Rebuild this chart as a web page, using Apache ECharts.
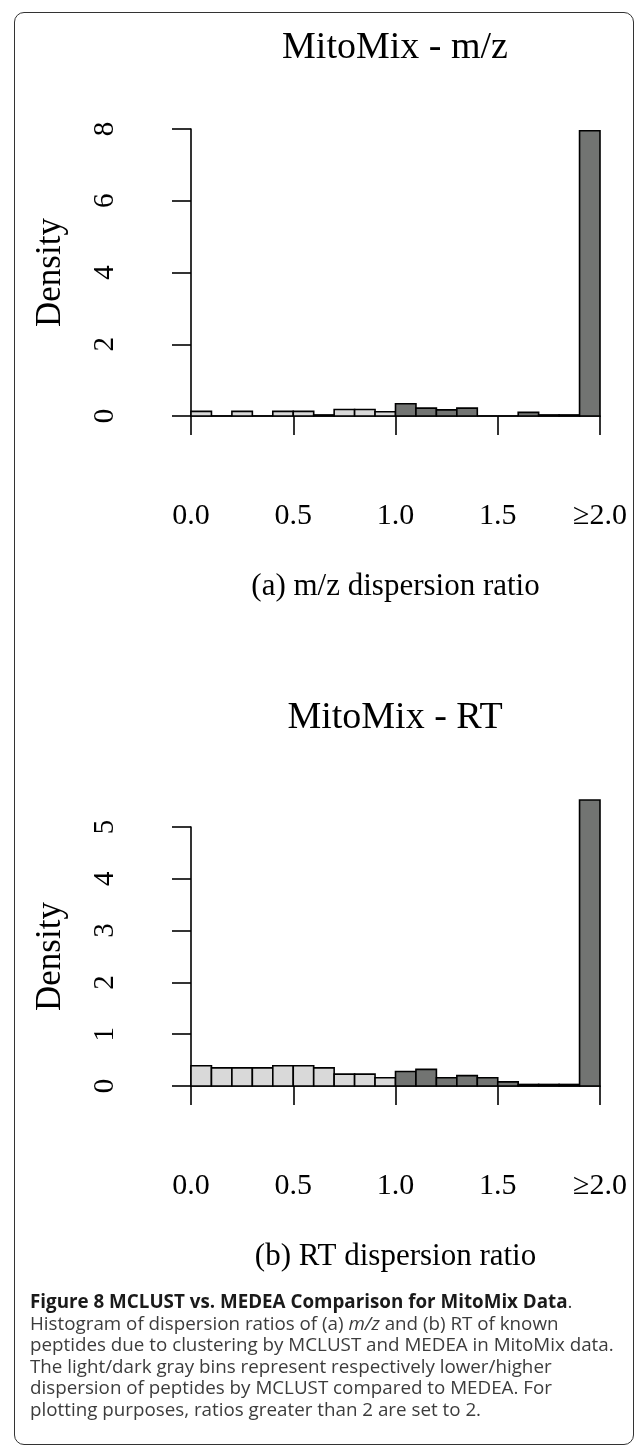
<!DOCTYPE html>
<html>
<head>
<meta charset="utf-8">
<script src="https://cdn.jsdelivr.net/npm/echarts@6/dist/echarts.min.js"></script>
<style>
html, body { margin: 0; padding: 0; background: #fff; }
#frame { position: absolute; left: 14px; top: 12px; width: 620px; height: 1433px; border: 1.5px solid #333; border-radius: 10px; box-sizing: border-box; }
#chart { position: absolute; left: 0; top: 0; width: 638px; height: 1290px; }
#caption { position: absolute; left: 30px; top: 1291px; width: 605px; font-family: "Open Sans"; font-size: 18.8px; line-height: 21.5px; color: #3c3c3c; white-space: nowrap; }
#caption b { color: #1a1a1a; }
</style>
</head>
<body>
<div id="frame"></div>
<div id="chart"></div>
<div id="caption"><b>Figure 8 MCLUST vs. MEDEA Comparison for MitoMix Data</b>.<br>Histogram of dispersion ratios of (a) <i>m/z</i> and (b) RT of known<br>peptides due to clustering by MCLUST and MEDEA in MitoMix data.<br>The light/dark gray bins represent respectively lower/higher<br>dispersion of peptides by MCLUST compared to MEDEA. For<br>plotting purposes, ratios greater than 2 are set to 2.</div>
<script>
// bins of width 0.1, last bin holds everything >= 1.9 (ratios > 2 set to 2)
const binStart = [0.0, 0.1, 0.2, 0.3, 0.4, 0.5, 0.6, 0.7, 0.8, 0.9, 1.0, 1.1, 1.2, 1.3, 1.4, 1.5, 1.6, 1.7, 1.8, 1.9]
const binEnd = [0.1, 0.2, 0.3, 0.4, 0.5, 0.6, 0.7, 0.8, 0.9, 1.0, 1.1, 1.2, 1.3, 1.4, 1.5, 1.6, 1.7, 1.8, 1.9, 2.0]
const mzDensity = [0.13, 0, 0.13, 0, 0.13, 0.13, 0.03, 0.18, 0.18, 0.12, 0.34, 0.22, 0.17, 0.22, 0, 0, 0.1, 0.03, 0.03, 7.95]
const rtDensity = [0.39, 0.35, 0.35, 0.35, 0.39, 0.39, 0.35, 0.23, 0.23, 0.16, 0.28, 0.32, 0.16, 0.2, 0.16, 0.08, 0.03, 0.03, 0.03, 5.52]
const xTicks = [0, 0.5, 1, 1.5, 2]
const xTickLabels = ['0.0', '0.5', '1.0', '1.5', '≥2.0']
const titles = ['MitoMix - m/z', 'MitoMix - RT']
const xNames = ['(a) m/z dispersion ratio', '(b) RT dispersion ratio']

const serif = '"Liberation Serif", "DejaVu Serif", serif'
const light = '#d9d9d9'
const dark = '#727472'

function rows(dens) {
    return binStart.map((b, i) => [b, binEnd[i], dens[i]])
}

function renderItem(params, api) {
    const x0 = api.value(0), x1 = api.value(1), d = api.value(2)
    const p0 = api.coord([x0, 0])
    const p1 = api.coord([x1, d])
    return {
        type: 'rect',
        shape: { x: p0[0], y: p1[1], width: p1[0] - p0[0], height: p0[1] - p1[1] },
        style: { fill: x0 < 1 ? light : dark, stroke: '#000', lineWidth: 1.6 }
    }
}

function xAxisOf(i) {
    return {
        gridIndex: i, type: 'value', min: 0, max: 2, interval: 0.5, offset: 12,
        axisLine: { show: true, lineStyle: { color: '#000', width: 1.6 } },
        axisTick: { length: 19, lineStyle: { color: '#000', width: 1.6 } },
        splitLine: { show: false },
        axisLabel: {
            margin: 73, fontFamily: serif, fontSize: 30, color: '#000',
            formatter: v => xTickLabels[xTicks.indexOf(v)]
        },
        name: xNames[i], nameLocation: 'middle', nameGap: 143,
        nameTextStyle: { fontFamily: serif, fontSize: 31, color: '#000' }
    }
}

function yAxisOf(i, max, step) {
    return {
        gridIndex: i, type: 'value', min: 0, max: max, interval: step, offset: 17,
        axisLine: { show: true, lineStyle: { color: '#000', width: 1.6 } },
        axisTick: { show: true, length: 19, lineStyle: { color: '#000', width: 1.6 } },
        splitLine: { show: false },
        axisLabel: { rotate: 90, margin: 54, fontFamily: serif, fontSize: 29, color: '#000' },
        name: 'Density', nameLocation: 'middle', nameRotate: 90, nameGap: 106,
        nameTextStyle: { fontFamily: serif, fontSize: 35, color: '#000' }
    }
}

let myChart = echarts.init(document.getElementById('chart'))
var option = {
    animation: false,
    grid: [
        { left: 191, width: 409, top: 129, height: 287 },
        { left: 191, width: 409, top: 827, height: 259 }
    ],
    xAxis: [xAxisOf(0), xAxisOf(1)],
    yAxis: [yAxisOf(0, 8, 2), yAxisOf(1, 5, 1)],
    graphic: [
        { type: 'text', x: 395, y: 48, style: { text: titles[0], fontFamily: serif, fontSize: 38, fill: '#000', textAlign: 'center', textVerticalAlign: 'middle' } },
        { type: 'text', x: 395, y: 718, style: { text: titles[1], fontFamily: serif, fontSize: 38, fill: '#000', textAlign: 'center', textVerticalAlign: 'middle' } }
    ],
    series: [
        { type: 'custom', xAxisIndex: 0, yAxisIndex: 0, data: rows(mzDensity), renderItem: renderItem, clip: false },
        { type: 'custom', xAxisIndex: 1, yAxisIndex: 1, data: rows(rtDensity), renderItem: renderItem, clip: false }
    ]
}
myChart.setOption(option)
</script>
</body>
</html>
